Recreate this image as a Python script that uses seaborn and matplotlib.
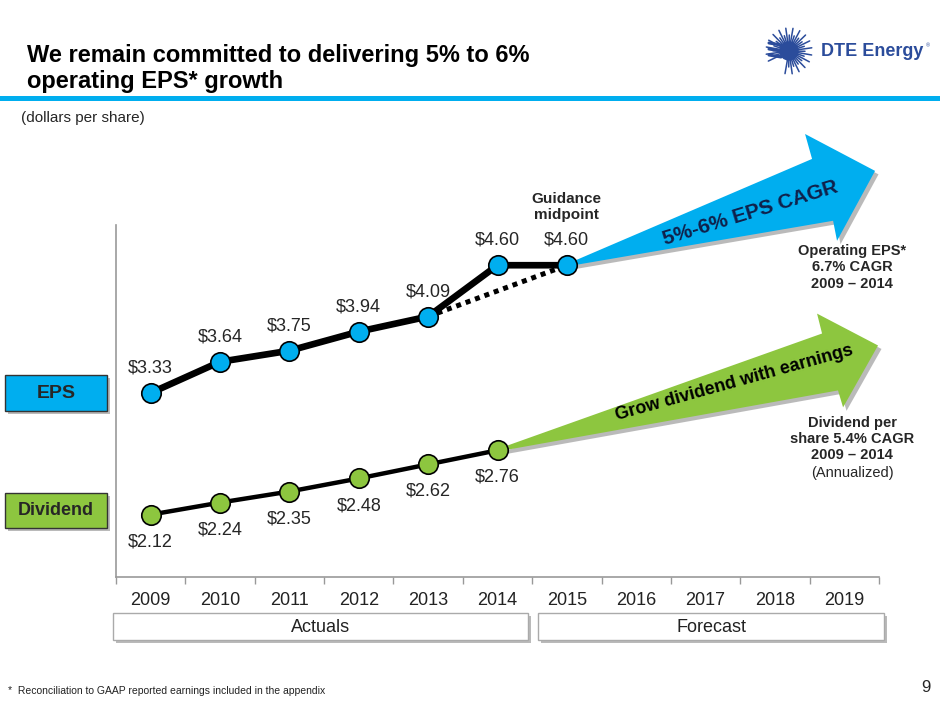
import numpy as np
import matplotlib
matplotlib.use("Agg")
import matplotlib.pyplot as plt
import matplotlib.patheffects as pe
from matplotlib.patches import Polygon, Rectangle, Circle
import seaborn as sns

# ---- data -------------------------------------------------------------
years = ["2009", "2010", "2011", "2012", "2013", "2014",
         "2015", "2016", "2017", "2018", "2019"]
eps_values = [3.33, 3.64, 3.75, 3.94, 4.09, 4.60, 4.60]      # 2009-2015
div_values = [2.12, 2.24, 2.35, 2.48, 2.62, 2.76]            # 2009-2014
trend_idx = [4, 6]                                            # 2013 -> 2015 dotted
trend_values = [4.09, 4.60]

BLUE = "#00AEEF"
GREEN = "#8DC63F"
NAVY = "#2B4C9B"
GRAY = "#999999"

sns.set_theme(style="white")
plt.rcParams["font.family"] = ["Liberation Sans", "DejaVu Sans"]

fig = plt.figure(figsize=(9.4, 7.05), dpi=100)

# overlay in pixel coordinates for slide furniture
ov = fig.add_axes([0, 0, 1, 1])
ov.set_xlim(0, 940)
ov.set_ylim(705, 0)
ov.axis("off")

shadow = [pe.SimplePatchShadow(offset=(2.5, -2.5), shadow_rgbFace="#777777", alpha=0.5), pe.Normal()]

ov.text(27, 62, "We remain committed to delivering 5% to 6%", fontsize=17,
        fontweight="bold", va="baseline", color="black")
ov.text(27, 88, "operating EPS* growth", fontsize=17, fontweight="bold",
        va="baseline", color="black")
ov.add_patch(Rectangle((0, 95.5), 940, 5, color=BLUE, lw=0))
ov.text(21, 118, "(dollars per share)", fontsize=11, va="center")

# logo
cx, cy = 789, 51
for i, a in enumerate(np.deg2rad(np.arange(-100, 215, 9))):
    r = 23 if i % 2 == 0 else 16
    ov.plot([cx, cx + r * np.cos(a)], [cy, cy - r * np.sin(a)], color=NAVY, lw=1.1)
ov.add_patch(Circle((cx, cy), 9, color=NAVY))
for dy in (-6, 0, 6):
    ov.plot([cx - 20, cx - 8], [cy + dy - 2, cy + dy], color=NAVY, lw=2.2)
ov.text(821, 52, "DTE Energy", fontsize=13, fontweight="heavy", color=NAVY, va="center")
ov.text(926, 46, "®", fontsize=4, color=NAVY, va="center")

# series boxes
for (y0, h, fc, lab, fs) in [(375, 36, BLUE, "EPS", 14), (493, 35, GREEN, "Dividend", 13)]:
    ov.add_patch(Rectangle((5, y0), 102, h, facecolor=fc, edgecolor="#333333",
                           lw=1, path_effects=shadow))
    ov.text(56, y0 + h / 2, lab, fontsize=fs, fontweight="bold", ha="center", va="center")

# actuals / forecast boxes
for (x0, w, lab) in [(113, 415, "Actuals"), (538, 346, "Forecast")]:
    ov.add_patch(Rectangle((x0, 613), w, 27, facecolor="white", edgecolor="#AAAAAA",
                           lw=1, path_effects=shadow))
    ov.text(x0 + w / 2, 627, lab, fontsize=13, ha="center", va="center", color="#222222")

ov.text(8, 691, "*  Reconciliation to GAAP reported earnings included in the appendix",
        fontsize=7.5, va="center", color="#222222")
ov.text(926, 687, "9", fontsize=12, va="center", ha="center")

# ---- chart ------------------------------------------------------------
ax = fig.add_axes([116 / 940, 1 - 577 / 705, (879 - 116) / 940, (577 - 225) / 705])
ax.patch.set_alpha(0)
ax.set_xlim(-0.5, 10.5)
ax.set_ylim(1.5, 5.0)

x_eps = np.arange(len(eps_values))
x_div = np.arange(len(div_values))

# growth arrows (offsets from their anchor data point)
eps_arrow = np.array([[0, 0.012], [3.535, 1.057], [3.434, 1.305], [4.443, 0.938],
                      [3.895, 0.243], [3.838, 0.442], [0, -0.012]])
div_arrow = np.array([[0, 0.012], [4.679, 1.161], [4.607, 1.359], [5.486, 1.042],
                      [4.982, 0.427], [4.909, 0.595], [0, -0.012]])
ax.add_patch(Polygon(eps_arrow + [x_eps[-1], eps_values[-1]], closed=True, facecolor=BLUE,
                     lw=0, clip_on=False, zorder=2, path_effects=shadow))
ax.add_patch(Polygon(div_arrow + [x_div[-1], div_values[-1]], closed=True, facecolor=GREEN,
                     lw=0, clip_on=False, zorder=2, path_effects=shadow))
ax.text(8.64, 5.12, "5%-6% EPS CAGR", rotation=17, rotation_mode="anchor", ha="center",
        va="center", fontsize=15, fontweight="bold", color="#10204A", zorder=3, clip_on=False)
ax.text(8.42, 3.425, "Grow dividend with earnings", rotation=15.5, rotation_mode="anchor",
        ha="center", va="center", fontsize=13, fontweight="bold", color="black", zorder=3)

sns.lineplot(x=trend_idx, y=trend_values, ax=ax, color="black", lw=3.6,
             linestyle=(0, (1, 1)), zorder=3)
sns.lineplot(x=x_eps, y=eps_values, ax=ax, color="black", lw=4.8, marker="o",
             markersize=14, markerfacecolor=BLUE, markeredgecolor="black",
             markeredgewidth=1.2, zorder=4)
sns.lineplot(x=x_div, y=div_values, ax=ax, color="black", lw=3.2, marker="o",
             markersize=14, markerfacecolor=GREEN, markeredgecolor="black",
             markeredgewidth=1.2, zorder=4)

for x, v in zip(x_eps, eps_values):
    ax.annotate(f"\\${v:.2f}", (x, v), xytext=(0, 18), textcoords="offset points",
                ha="center", va="center", fontsize=13, zorder=5)
for x, v in zip(x_div, div_values):
    ax.annotate(f"\\${v:.2f}", (x, v), xytext=(0, -19.5), textcoords="offset points",
                ha="center", va="center", fontsize=13, zorder=5)

ax.annotate("Guidance\nmidpoint", (x_eps[-1], eps_values[-1]), xytext=(0, 42),
            textcoords="offset points", ha="center", va="center", fontsize=11,
            fontweight="bold", linespacing=1.15, annotation_clip=False)

ax.text(852 / 940, 1 - 267.5 / 705, "Operating EPS*\n6.7% CAGR\n2009 \u2013 2014",
        transform=fig.transFigure, ha="center", va="center", fontsize=10.5,
        fontweight="bold", linespacing=1.2)
ax.text(852 / 940, 1 - 439 / 705, "Dividend per\nshare 5.4% CAGR\n2009 \u2013 2014",
        transform=fig.transFigure, ha="center", va="center", fontsize=10.5,
        fontweight="bold", linespacing=1.2)
ax.text(852 / 940, 1 - 473 / 705, "(Annualized)", transform=fig.transFigure,
        ha="center", va="center", fontsize=10.5)

# axes styling
for s in ("top", "right"):
    ax.spines[s].set_visible(False)
for s in ("left", "bottom"):
    ax.spines[s].set_color(GRAY)
    ax.spines[s].set_linewidth(1.2)
ax.set_yticks([])
ax.set_xticks(range(len(years)))
ax.set_xticklabels(years)
ax.set_xticks(np.arange(-0.5, len(years), 1), minor=True)
ax.tick_params(axis="x", which="major", length=0, pad=11, labelsize=13, labelcolor="#222222")
ax.tick_params(axis="x", which="minor", length=5, width=1, color=GRAY, direction="out", bottom=True)
ax.set_xlabel("")
ax.set_ylabel("")

fig.savefig("out.png", dpi=100)
